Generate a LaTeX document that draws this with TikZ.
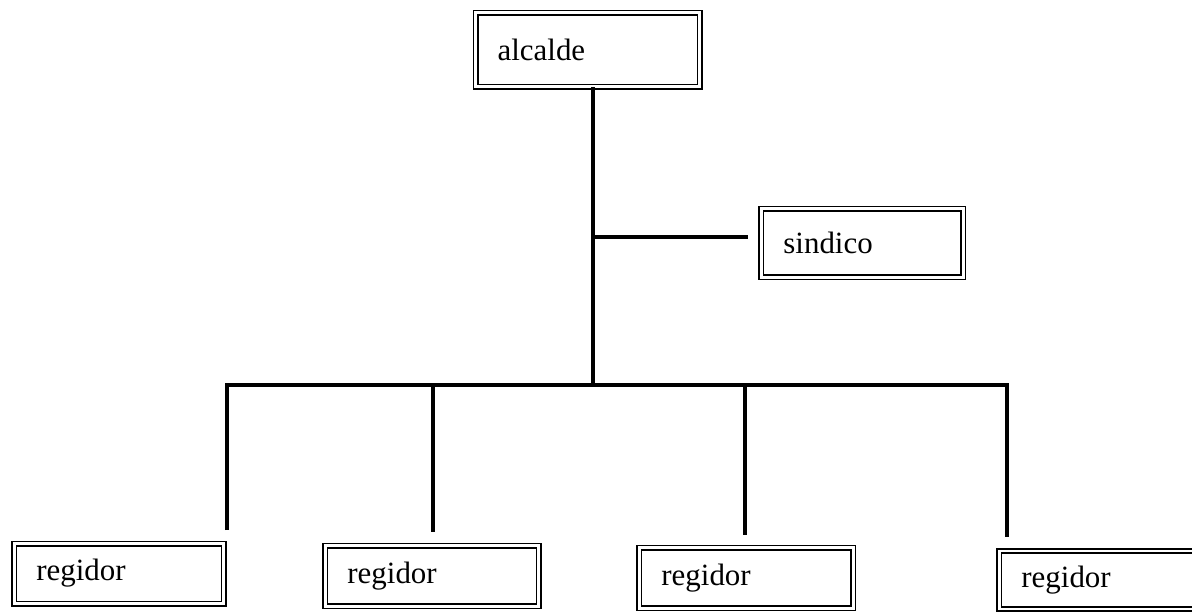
\documentclass[tikz,border=0pt]{standalone}
\usepackage{fontspec}
\setmainfont{Liberation Serif}
\begin{document}
\begin{tikzpicture}[
        cargo/.style={draw, double, double distance=2pt, line width=1.1pt,
            inner xsep=0.55cm, inner ysep=0pt, align=left,
            font=\fontsize{22}{26}\selectfont},
        linea/.style={line width=2.6pt}
    ]
        \clip (0,0) rectangle (29.8,-15.275);
        \fill[white] (0,0) rectangle (29.8,-15.275);
        % jefe y sindico
        \node[cargo, text width=4.5cm, minimum height=1.85cm] (alcalde) at (14.69,-1.24) {alcalde};
        \node[cargo, text width=3.95cm, minimum height=1.72cm] (sindico) at (21.56,-6.075) {sindico};
        % regidores
        \node[cargo, text width=4.13cm, minimum height=1.5cm] (reg1) at (2.975,-14.34) {regidor};
        \node[cargo, text width=4.23cm, minimum height=1.52cm] (reg2) at (10.8,-14.4) {regidor};
        \node[cargo, text width=4.25cm, minimum height=1.52cm] (reg3) at (18.66,-14.45) {regidor};
        \node[cargo, text width=4.23cm, minimum height=1.45cm] (reg4) at (27.65,-14.5) {regidor};
        % puntos libres
        \coordinate (bus) at (14.825,-9.625);
        \coordinate (sin) at (18.7,-5.925);
        \coordinate (d1) at (5.675,-13.25);
        \coordinate (d2) at (10.825,-13.3);
        \coordinate (d3) at (18.625,-13.375);
        \coordinate (d4) at (25.175,-13.425);
        % lineas
        \draw[linea] (alcalde.south -| bus) -- (bus);
        \draw[linea] (sin -| bus) -- (sin);
        \draw[linea, line join=miter] (d1) -- (d1 |- bus) -- (d4 |- bus) -- (d4);
        \draw[linea] (d2 |- bus) -- (d2);
        \draw[linea] (d3 |- bus) -- (d3);
    \end{tikzpicture}
\end{document}
